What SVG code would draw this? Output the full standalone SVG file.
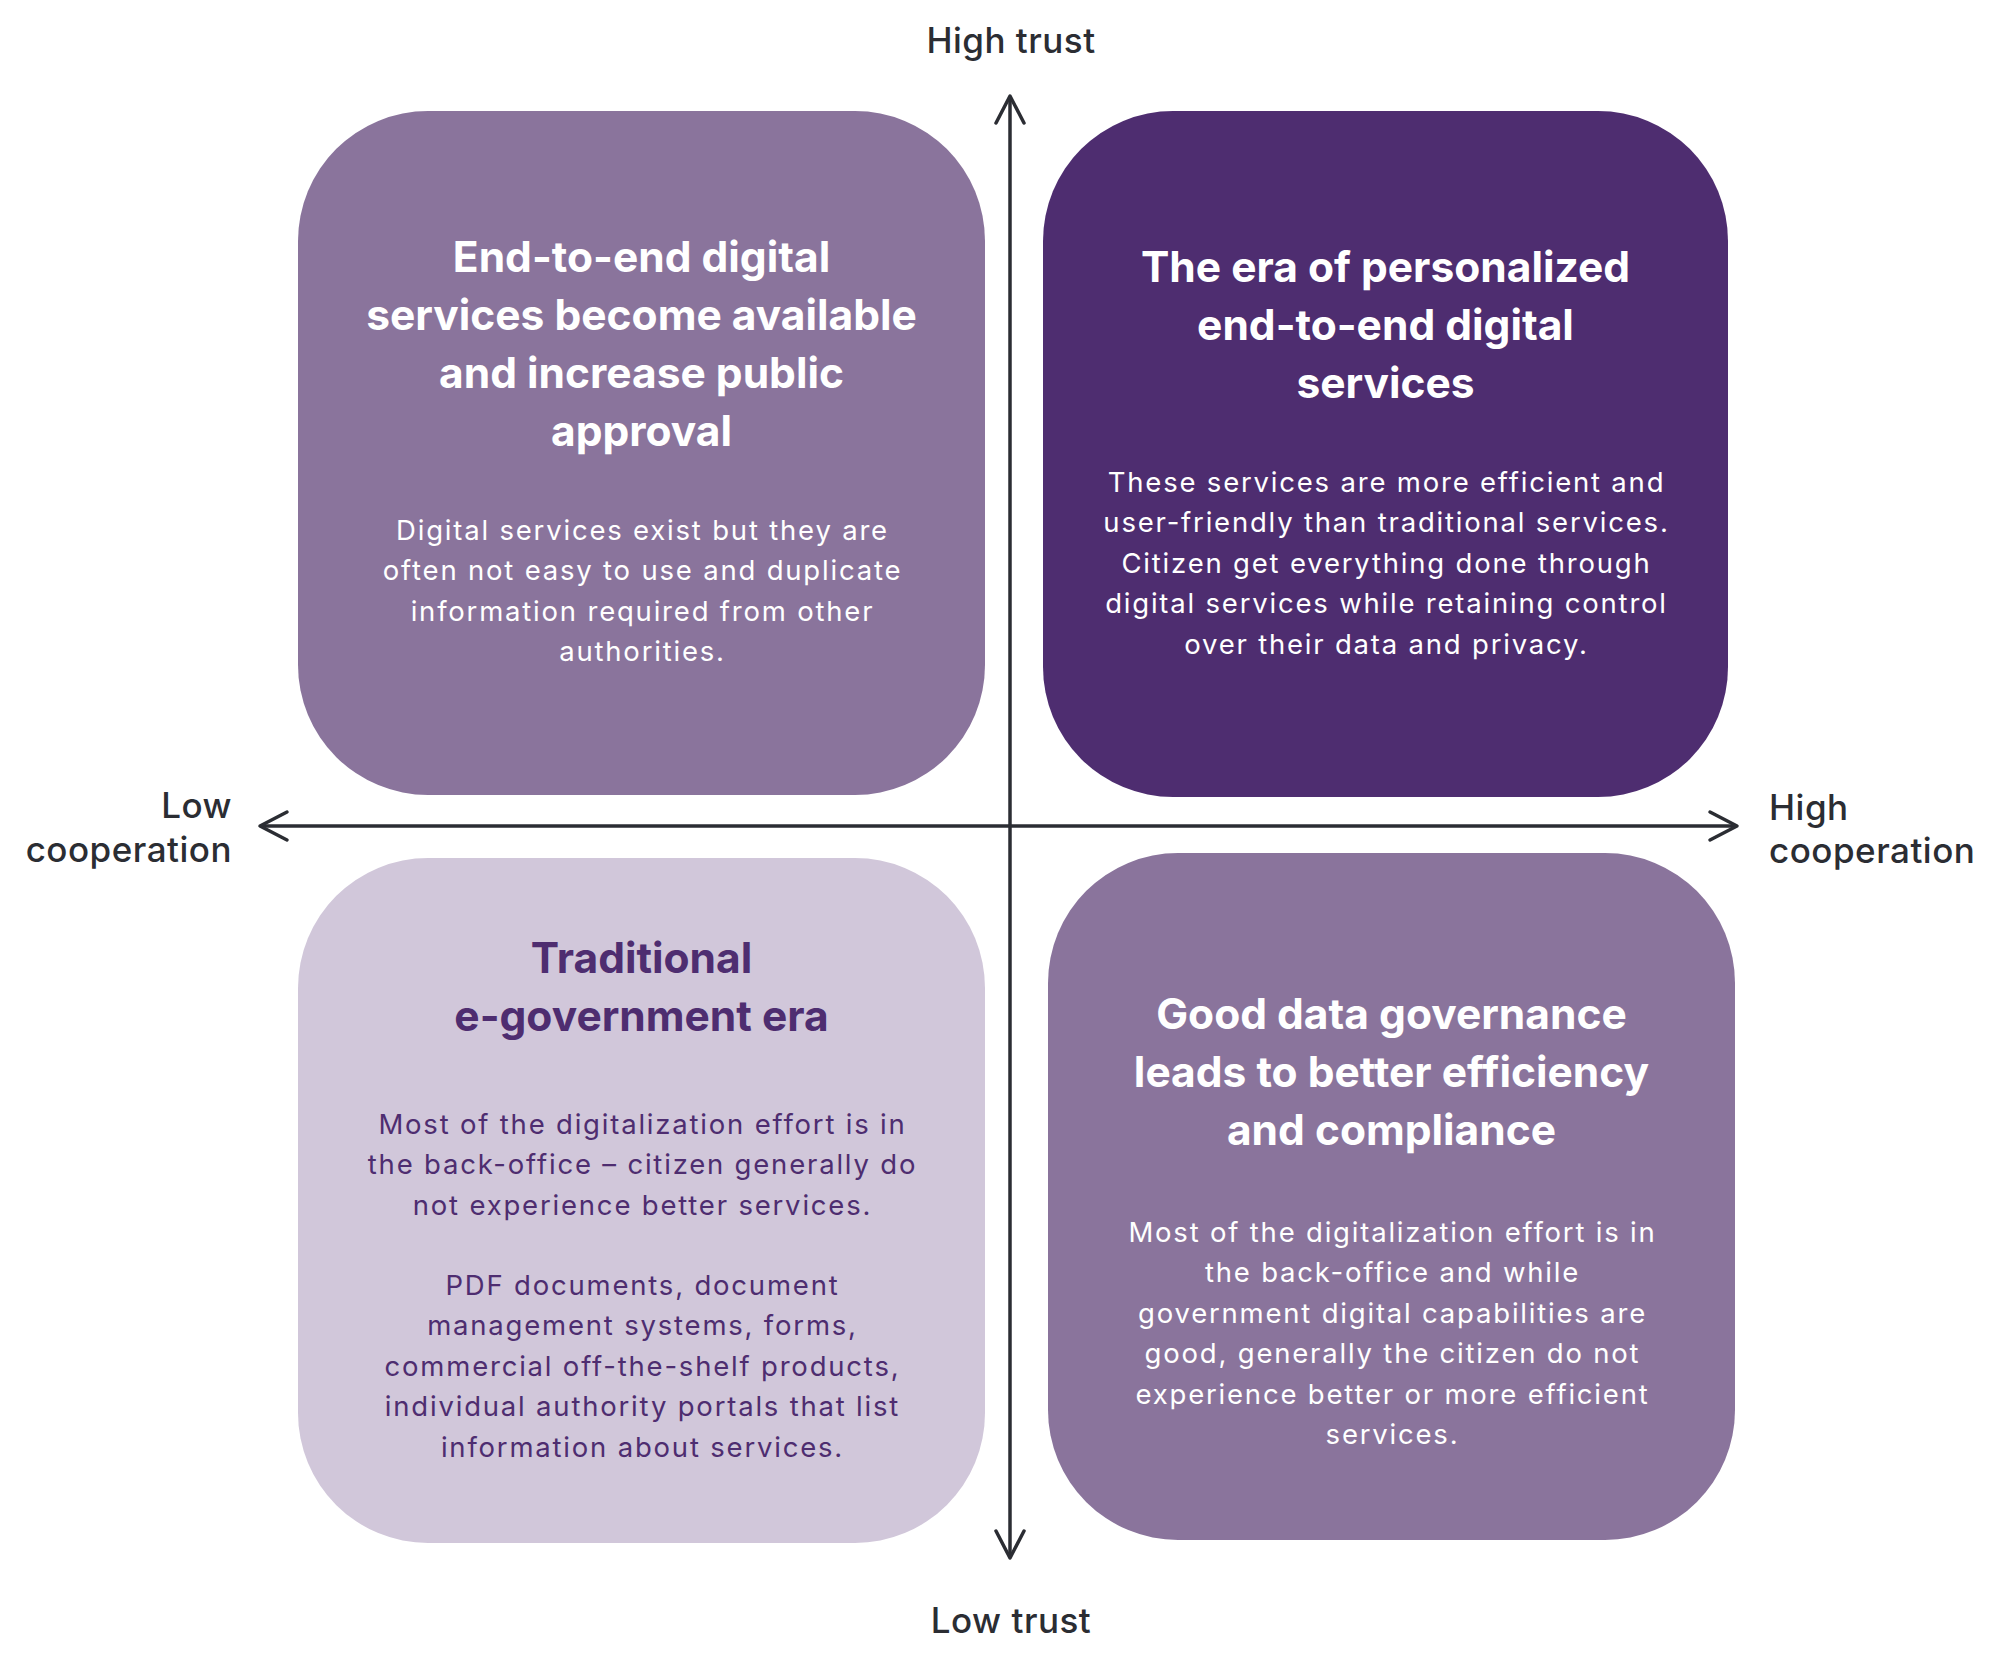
<svg xmlns="http://www.w3.org/2000/svg" width="2000" height="1661" viewBox="0 0 2000 1661">
<defs>
<style>
.box-mid{fill:#8a749c}
.box-dark{fill:#4e2d70}
.box-light{fill:#d1c7da}
.title{font-family:Inter,"Liberation Sans",sans-serif;font-weight:700;font-size:42.5px;text-anchor:middle;letter-spacing:0px}
.body{font-family:Inter,"Liberation Sans",sans-serif;font-weight:400;font-size:27.5px;text-anchor:middle;letter-spacing:1.8px}
.w{fill:#ffffff}
.p{fill:#4e2d70}
.axis-label{font-family:Inter,"Liberation Sans",sans-serif;font-weight:500;font-size:35px;fill:#2b2d33;letter-spacing:0.5px}
.axis{stroke:#2b2d33;stroke-width:3.5;fill:none}
</style>
<marker id="arr" markerUnits="userSpaceOnUse" markerWidth="40" markerHeight="40" viewBox="-32 -20 40 40" refX="0" refY="0" orient="auto-start-reverse">
<path d="M -27 -14 L 0 0 L -27 14" fill="none" stroke="#2b2d33" stroke-width="3.5" stroke-linecap="round" stroke-linejoin="round"/>
</marker>
</defs>
<rect width="2000" height="1661" fill="#ffffff"/>

<g id="q-top-left">
<rect class="box-mid" x="298" y="111" width="687" height="684" rx="130" ry="130"/>
<text class="title w"><tspan x="641.5" y="272">End-to-end digital</tspan><tspan x="641.5" y="330">services become available</tspan><tspan x="641.5" y="388">and increase public</tspan><tspan x="641.5" y="446">approval</tspan></text>
<text class="body w"><tspan x="642.5" y="540">Digital services exist but they are</tspan><tspan x="642.5" y="580.4">often not easy to use and duplicate</tspan><tspan x="642.5" y="620.8">information required from other</tspan><tspan x="642.5" y="661.2">authorities.</tspan></text>
</g>

<g id="q-top-right">
<rect class="box-dark" x="1043" y="111" width="685" height="686" rx="130" ry="130"/>
<text class="title w"><tspan x="1385.5" y="282">The era of personalized</tspan><tspan x="1385.5" y="340">end-to-end digital</tspan><tspan x="1385.5" y="398">services</tspan></text>
<text class="body w"><tspan x="1386.5" y="492">These services are more efficient and</tspan><tspan x="1386.5" y="532.4">user-friendly than traditional services.</tspan><tspan x="1386.5" y="572.8">Citizen get everything done through</tspan><tspan x="1386.5" y="613.2">digital services while retaining control</tspan><tspan x="1386.5" y="653.6">over their data and privacy.</tspan></text>
</g>

<g id="q-bottom-left">
<rect class="box-light" x="298" y="858" width="687" height="685" rx="130" ry="130"/>
<text class="title p"><tspan x="641.5" y="973">Traditional</tspan><tspan x="641.5" y="1031">e-government era</tspan></text>
<text class="body p"><tspan x="642.5" y="1134">Most of the digitalization effort is in</tspan><tspan x="642.5" y="1174.4">the back-office – citizen generally do</tspan><tspan x="642.5" y="1214.8">not experience better services.</tspan><tspan x="642.5" y="1295">PDF documents, document</tspan><tspan x="642.5" y="1335.4">management systems, forms,</tspan><tspan x="642.5" y="1375.8">commercial off-the-shelf products,</tspan><tspan x="642.5" y="1416.2">individual authority portals that list</tspan><tspan x="642.5" y="1456.6">information about services.</tspan></text>
</g>

<g id="q-bottom-right">
<rect class="box-mid" x="1048" y="853" width="687" height="687" rx="130" ry="130"/>
<text class="title w"><tspan x="1391.5" y="1029">Good data governance</tspan><tspan x="1391.5" y="1087">leads to better efficiency</tspan><tspan x="1391.5" y="1145">and compliance</tspan></text>
<text class="body w"><tspan x="1392.5" y="1242">Most of the digitalization effort is in</tspan><tspan x="1392.5" y="1282.4">the back-office and while</tspan><tspan x="1392.5" y="1322.8">government digital capabilities are</tspan><tspan x="1392.5" y="1363.2">good, generally the citizen do not</tspan><tspan x="1392.5" y="1403.6">experience better or more efficient</tspan><tspan x="1392.5" y="1444">services.</tspan></text>
</g>

<g id="connectors">
<path class="axis" d="M 1010 96 L 1010 1558" marker-start="url(#arr)" marker-end="url(#arr)"/>
<path class="axis" d="M 260 826 L 1737 826" marker-start="url(#arr)" marker-end="url(#arr)"/>
</g>

<g id="axis-labels">
<text class="axis-label" x="1011" y="53" text-anchor="middle">High trust</text>
<text class="axis-label" x="1011" y="1633" text-anchor="middle">Low trust</text>
<text class="axis-label" text-anchor="end"><tspan x="232" y="818">Low</tspan><tspan x="232" y="862">cooperation</tspan></text>
<text class="axis-label" text-anchor="start"><tspan x="1769" y="820">High</tspan><tspan x="1769" y="863">cooperation</tspan></text>
</g>
</svg>
